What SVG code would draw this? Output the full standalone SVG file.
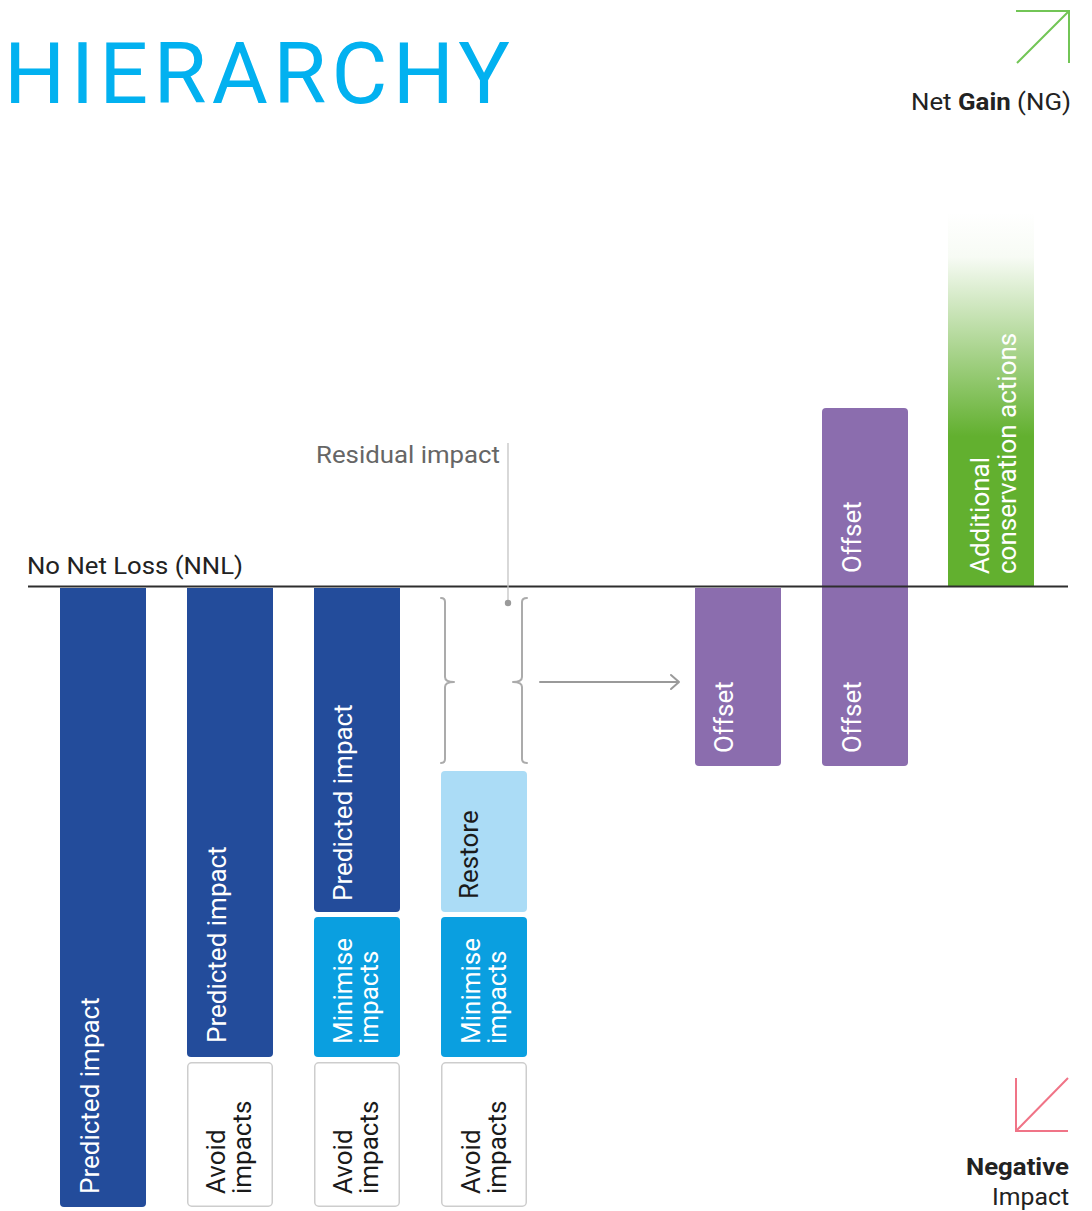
<svg xmlns="http://www.w3.org/2000/svg" width="1092" height="1211" viewBox="0 0 1092 1211">
  <defs>
    <linearGradient id="gGreen" x1="0" y1="0" x2="0" y2="1">
      <stop offset="0" stop-color="#62b02f" stop-opacity="0"/>
      <stop offset="0.12" stop-color="#62b02f" stop-opacity="0.05"/>
      <stop offset="0.6" stop-color="#62b02f" stop-opacity="1"/>
      <stop offset="1" stop-color="#62b02f" stop-opacity="1"/>
    </linearGradient>
  </defs>
  <style>
    text { font-family: Roboto, "Liberation Sans", sans-serif; }
    .title { font-size: 86px; fill: #02b1f0; }
    .lbl { font-size: 23px; fill: #222; }
    .gray { font-size: 23px; fill: #666; }
    .vt { font-size: 26px; fill: #ffffff; }
    .vtd { font-size: 26px; fill: #1a1a1a; }
    .dark { fill: #234c9b; }
    .mini { fill: #0a9fe0; }
    .rest { fill: #abdcf6; }
    .avoid { fill: #ffffff; stroke: #cdcdcd; stroke-width: 1.5; }
    .purple { fill: #8b6dae; }
    .brace { fill: none; stroke: #ababab; stroke-width: 2; stroke-linecap: round; stroke-linejoin: round; }
  </style>
  <rect width="1092" height="1211" fill="#ffffff"/>

  <g id="title">
    <text class="title" x="4" y="103" textLength="506" lengthAdjust="spacing">HIERARCHY</text>
  </g>

  <g id="net-gain">
    <path d="M1016 11 H1069 V63 M1069 11 L1017 63" fill="none" stroke="#72c556" stroke-width="2"/>
    <text class="lbl" x="911" y="110" textLength="160" lengthAdjust="spacingAndGlyphs">Net <tspan font-weight="bold">Gain</tspan> (NG)</text>
  </g>

  <g id="negative-impact">
    <path d="M1016 1078 V1131 H1068 M1016 1131 L1068 1078" fill="none" stroke="#f07487" stroke-width="2"/>
    <text class="lbl" x="966" y="1175" font-weight="bold" textLength="103" lengthAdjust="spacingAndGlyphs">Negative</text>
    <text class="lbl" x="992" y="1205" textLength="77" lengthAdjust="spacingAndGlyphs">Impact</text>
  </g>

  <g id="column1">
    <path class="dark" d="M60 588 H146 V1203 Q146 1207 142 1207 H64 Q60 1207 60 1203 Z"/>
    <text class="vt" transform="translate(99,1194) rotate(-90)">Predicted impact</text>
  </g>

  <g id="column2">
    <path class="dark" d="M187 588 H273 V1053 Q273 1057 269 1057 H191 Q187 1057 187 1053 Z"/>
    <text class="vt" transform="translate(226,1043) rotate(-90)">Predicted impact</text>
    <rect class="avoid" x="187.75" y="1062.75" width="84.5" height="143.5" rx="4"/>
    <text class="vtd" transform="translate(225,1194) rotate(-90)">Avoid</text>
    <text class="vtd" transform="translate(251,1194) rotate(-90)">impacts</text>
  </g>

  <g id="column3">
    <path class="dark" d="M314 588 H400 V908 Q400 912 396 912 H318 Q314 912 314 908 Z"/>
    <text class="vt" transform="translate(352,901) rotate(-90)">Predicted impact</text>
    <rect class="mini" x="314" y="917" width="86" height="140" rx="4"/>
    <text class="vt" transform="translate(352,1044) rotate(-90)">Minimise</text>
    <text class="vt" transform="translate(378,1044) rotate(-90)">impacts</text>
    <rect class="avoid" x="314.75" y="1062.75" width="84.5" height="143.5" rx="4"/>
    <text class="vtd" transform="translate(352,1194) rotate(-90)">Avoid</text>
    <text class="vtd" transform="translate(378,1194) rotate(-90)">impacts</text>
  </g>

  <g id="column4">
    <rect class="rest" x="441" y="771" width="86" height="141" rx="4"/>
    <text class="vtd" transform="translate(478,899) rotate(-90)">Restore</text>
    <rect class="mini" x="441" y="917" width="86" height="140" rx="4"/>
    <text class="vt" transform="translate(480,1044) rotate(-90)">Minimise</text>
    <text class="vt" transform="translate(506,1044) rotate(-90)">impacts</text>
    <rect class="avoid" x="441.75" y="1062.75" width="84.5" height="143.5" rx="4"/>
    <text class="vtd" transform="translate(480,1194) rotate(-90)">Avoid</text>
    <text class="vtd" transform="translate(506,1194) rotate(-90)">impacts</text>
  </g>

  <g id="residual-impact">
    <text class="gray" x="316" y="463" textLength="184" lengthAdjust="spacingAndGlyphs">Residual impact</text>
    <path class="brace" d="M441 598 Q445 598 445 602 V677 Q445 682 454 682 Q445 682 445 687 V759 Q445 763 441 763"/>
    <path class="brace" d="M527 598 Q522 598 522 602 V677 Q522 682 513 682 Q522 682 522 687 V759 Q522 763 527 763"/>
  </g>

  <g id="offset1">
    <path class="purple" d="M695 588 H781 V762 Q781 766 777 766 H699 Q695 766 695 762 Z"/>
    <text class="vt" transform="translate(733,753) rotate(-90)">Offset</text>
  </g>

  <g id="offset2">
    <rect class="purple" x="822" y="408" width="86" height="358" rx="4"/>
    <text class="vt" transform="translate(861,573) rotate(-90)">Offset</text>
    <text class="vt" transform="translate(861,753) rotate(-90)">Offset</text>
  </g>

  <g id="additional-conservation">
    <rect x="948" y="212" width="86" height="374" fill="url(#gGreen)"/>
    <text class="vt" transform="translate(989,574) rotate(-90)">Additional</text>
    <text class="vt" transform="translate(1016,574) rotate(-90)">conservation actions</text>
  </g>

  <g id="nnl">
    <text class="lbl" x="27" y="574" textLength="216" lengthAdjust="spacingAndGlyphs">No Net Loss (NNL)</text>
    <path d="M28 586.5 H1068" stroke="#2e2e2e" stroke-width="2.2" fill="none"/>
  </g>

  <g id="connectors">
    <path d="M508 443 V603" stroke="#c4c4c4" stroke-width="1.3" fill="none"/>
    <circle cx="508" cy="603" r="3.2" fill="#9a9a9a"/>
    <path d="M540 682 H679 M671 675 L679 682 L671 689" fill="none" stroke="#9a9a9a" stroke-width="2" stroke-linejoin="round" stroke-linecap="round"/>
  </g>
</svg>
